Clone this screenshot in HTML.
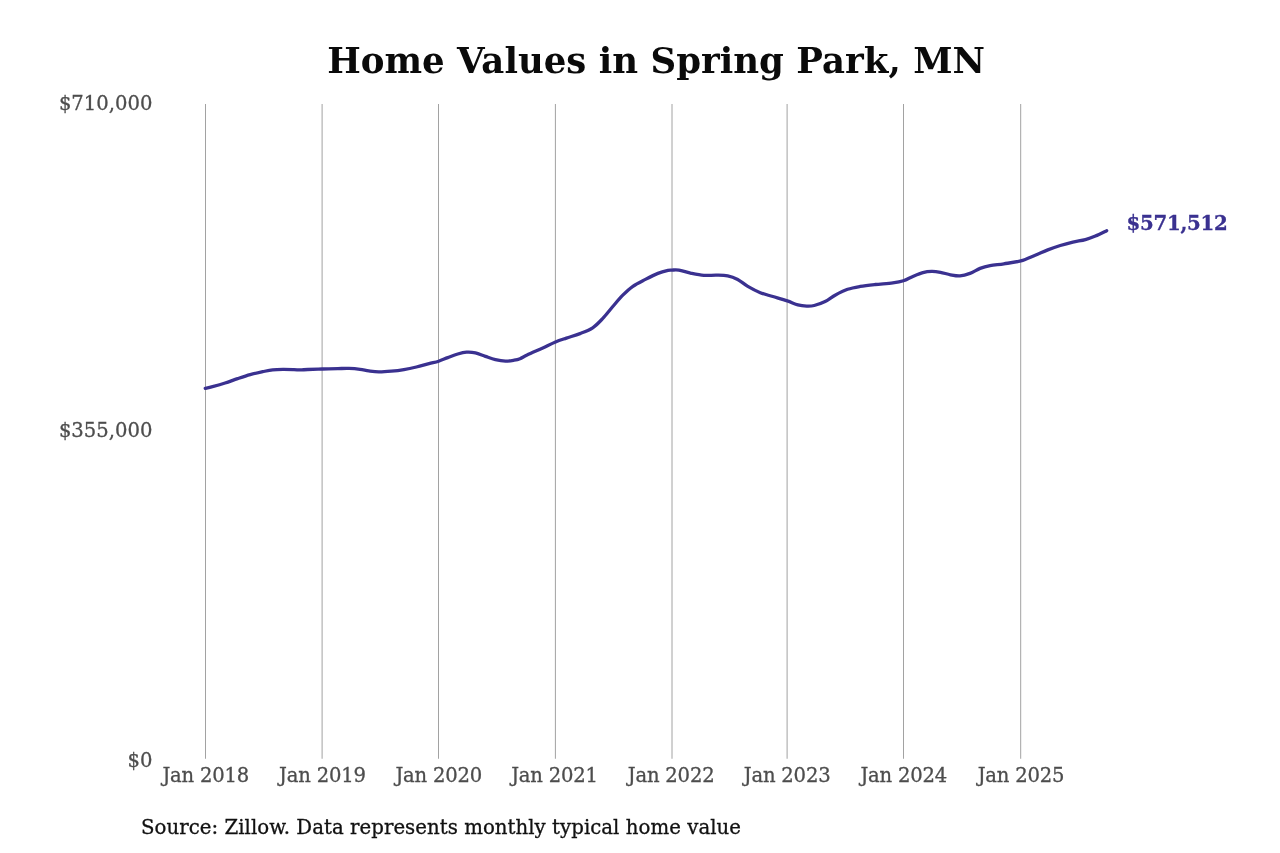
<!DOCTYPE html>
<html lang="en"><head><meta charset="utf-8"><title>Home Values in Spring Park, MN</title>
<style>
html,body{margin:0;padding:0;background:#fff;}
body{width:1280px;height:853px;overflow:hidden;font-family:"DejaVu Serif","Liberation Serif",serif;}
svg{display:block;}
svg text{font-family:"DejaVu Serif","Liberation Serif",serif;}
.title{font-weight:bold;font-size:35.56px;fill:#0a0a0a;}
.tick text{font-size:19.6px;fill:#4d4d4d;stroke:#4d4d4d;stroke-width:0.3px;}
.xt text{letter-spacing:-0.2px;}
.grid line{stroke:#a2a2a2;stroke-width:1.0;}
.end{letter-spacing:-0.27px;font-weight:bold;font-size:19.75px;fill:#3a3190;stroke:#3a3190;stroke-width:0.3px;}
.src{letter-spacing:0.025px;font-size:19.75px;fill:#111;stroke:#111;stroke-width:0.3px;}
</style></head><body>
<svg width="1280" height="853" viewBox="0 0 1280 853">
<rect width="1280" height="853" fill="#ffffff"/>
<text class="title" transform="translate(656.1 72.7) scale(1 0.97)" text-anchor="middle">Home Values in Spring Park, MN</text>
<g class="grid"><line x1="205.50" x2="205.50" y1="104.00" y2="758.75"/><line x1="322.10" x2="322.10" y1="104.00" y2="758.75"/><line x1="438.50" x2="438.50" y1="104.00" y2="758.75"/><line x1="555.40" x2="555.40" y1="104.00" y2="758.75"/><line x1="672.00" x2="672.00" y1="104.00" y2="758.75"/><line x1="787.10" x2="787.10" y1="104.00" y2="758.75"/><line x1="903.50" x2="903.50" y1="104.00" y2="758.75"/><line x1="1020.70" x2="1020.70" y1="104.00" y2="758.75"/></g>
<g class="tick" text-anchor="end">
<text x="152.4" y="109.95">$710,000</text>
<text x="152.4" y="436.95">$355,000</text>
<text x="152.4" y="767.1">$0</text>
</g>
<g class="tick xt" text-anchor="middle"><text x="205.80" y="782.10">Jan 2018</text><text x="322.40" y="782.10">Jan 2019</text><text x="438.80" y="782.10">Jan 2020</text><text x="554.50" y="782.10">Jan 2021</text><text x="671.10" y="782.10">Jan 2022</text><text x="787.10" y="782.10">Jan 2023</text><text x="903.80" y="782.10">Jan 2024</text><text x="1021.00" y="782.10">Jan 2025</text></g>
<path d="M205.27 388.30C206.48 388.02 209.19 387.48 212.50 386.60C215.81 385.72 220.92 384.33 225.10 383.00C229.28 381.67 233.42 380.00 237.60 378.60C241.78 377.20 246.02 375.75 250.20 374.60C254.38 373.45 258.95 372.50 262.70 371.70C266.45 370.90 269.32 370.19 272.70 369.80C276.08 369.41 279.45 369.38 283.00 369.35C286.55 369.32 291.12 369.50 294.00 369.60C296.88 369.70 298.00 369.97 300.30 369.95C302.60 369.93 304.13 369.66 307.80 369.50C311.47 369.34 317.28 369.15 322.30 369.00C327.32 368.85 333.45 368.69 337.90 368.60C342.35 368.51 345.32 368.33 349.00 368.45C352.68 368.57 356.70 368.89 360.00 369.30C363.30 369.71 365.67 370.47 368.80 370.90C371.93 371.33 375.05 371.85 378.80 371.90C382.55 371.95 387.12 371.58 391.30 371.20C395.48 370.82 399.72 370.30 403.90 369.60C408.08 368.90 412.22 368.00 416.40 367.00C420.58 366.00 425.30 364.57 429.00 363.60C432.70 362.63 435.47 362.20 438.60 361.20C441.73 360.20 444.60 358.80 447.80 357.60C451.00 356.40 454.67 354.90 457.80 354.00C460.93 353.10 463.67 352.38 466.60 352.20C469.53 352.02 472.27 352.20 475.40 352.90C478.53 353.60 482.07 355.28 485.40 356.40C488.73 357.52 492.05 358.82 495.40 359.60C498.75 360.38 502.37 361.00 505.50 361.10C508.63 361.20 511.78 360.60 514.20 360.20C516.62 359.80 517.85 359.57 520.00 358.70C522.15 357.83 523.30 356.80 527.10 355.00C530.90 353.20 538.07 350.07 542.80 347.90C547.53 345.73 551.57 343.63 555.50 342.00C559.43 340.37 562.32 339.50 566.40 338.10C570.48 336.70 575.62 335.32 580.00 333.60C584.38 331.88 588.90 330.33 592.70 327.80C596.50 325.27 599.45 321.95 602.80 318.40C606.15 314.85 609.47 310.37 612.80 306.50C616.13 302.63 619.45 298.57 622.80 295.20C626.15 291.83 629.13 288.93 632.90 286.30C636.67 283.67 641.23 281.55 645.40 279.40C649.57 277.25 654.13 274.90 657.90 273.40C661.67 271.90 665.67 270.95 668.00 270.40C670.33 269.85 670.10 270.15 671.90 270.10C673.70 270.05 675.57 269.57 678.80 270.10C682.03 270.63 687.12 272.42 691.30 273.30C695.48 274.18 699.72 275.10 703.90 275.40C708.08 275.70 712.43 275.03 716.40 275.10C720.37 275.17 724.15 275.07 727.70 275.80C731.25 276.53 734.35 277.73 737.70 279.50C741.05 281.27 744.03 284.20 747.80 286.40C751.57 288.60 756.12 291.02 760.30 292.70C764.48 294.38 768.40 295.13 772.90 296.50C777.40 297.87 783.13 299.50 787.30 300.90C791.47 302.30 794.67 304.03 797.90 304.90C801.13 305.77 803.98 306.00 806.70 306.10C809.42 306.20 811.13 306.27 814.20 305.50C817.27 304.73 821.62 303.22 825.10 301.50C828.58 299.78 831.35 297.23 835.10 295.20C838.85 293.17 843.42 290.77 847.60 289.30C851.78 287.83 855.60 287.20 860.20 286.40C864.80 285.60 869.77 285.08 875.20 284.50C880.63 283.92 888.10 283.52 892.80 282.90C897.50 282.28 900.05 281.88 903.40 280.80C906.75 279.72 909.65 277.77 912.90 276.40C916.15 275.03 919.77 273.43 922.90 272.60C926.03 271.77 928.78 271.45 931.70 271.40C934.62 271.35 937.27 271.73 940.40 272.30C943.53 272.87 947.23 274.20 950.50 274.80C953.77 275.40 956.75 276.13 960.00 275.90C963.25 275.67 966.65 274.65 970.00 273.40C973.35 272.15 976.75 269.70 980.10 268.40C983.45 267.10 986.13 266.37 990.10 265.60C994.07 264.83 998.78 264.58 1003.90 263.80C1009.02 263.02 1015.58 262.33 1020.80 260.90C1026.02 259.47 1030.70 257.03 1035.20 255.20C1039.70 253.37 1043.62 251.52 1047.80 249.90C1051.98 248.28 1056.12 246.80 1060.30 245.50C1064.48 244.20 1068.72 243.08 1072.90 242.10C1077.08 241.12 1081.65 240.60 1085.40 239.60C1089.15 238.60 1091.85 237.58 1095.40 236.10C1098.95 234.62 1104.82 231.60 1106.70 230.70" fill="none" stroke="#3a3190" stroke-width="3.3" stroke-linecap="round" stroke-linejoin="round"/>
<text class="end" x="1126.5" y="230.45">$571,512</text>
<text class="src" x="141" y="834.1">Source: Zillow. Data represents monthly typical home value</text>
</svg>
</body></html>
